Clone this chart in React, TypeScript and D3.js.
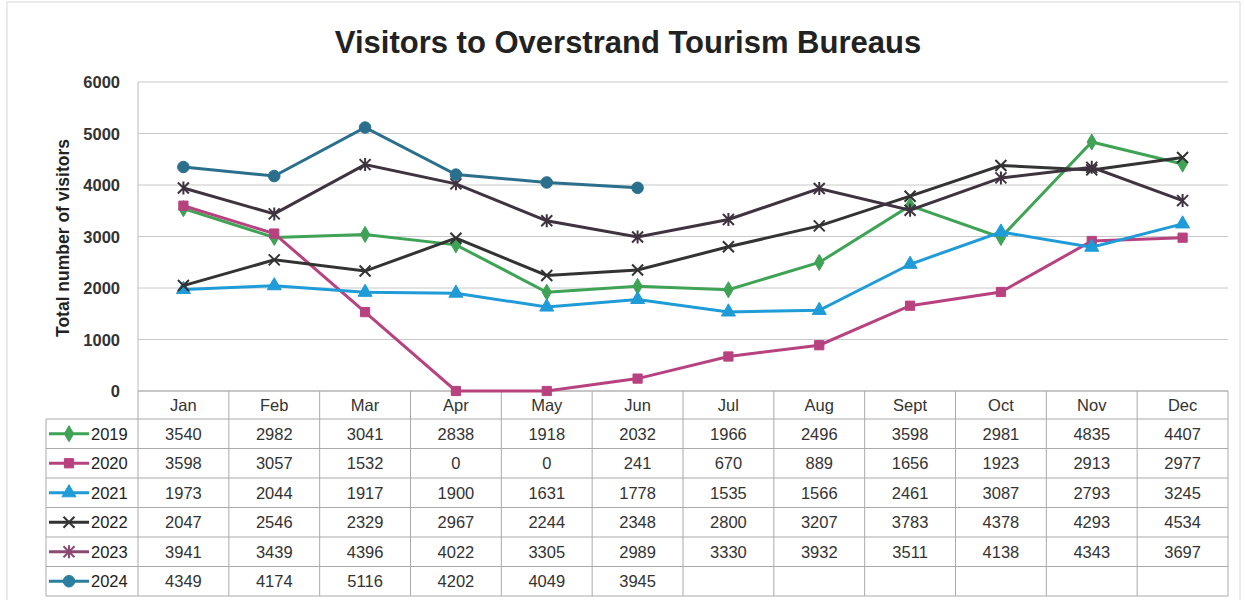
import React from "react";
import * as d3 from "d3";

const months = ["Jan", "Feb", "Mar", "Apr", "May", "Jun", "Jul", "Aug", "Sept", "Oct", "Nov", "Dec"];
const years = ["2019", "2020", "2021", "2022", "2023", "2024"];
const v2019 = [3540, 2982, 3041, 2838, 1918, 2032, 1966, 2496, 3598, 2981, 4835, 4407];
const v2020 = [3598, 3057, 1532, 0, 0, 241, 670, 889, 1656, 1923, 2913, 2977];
const v2021 = [1973, 2044, 1917, 1900, 1631, 1778, 1535, 1566, 2461, 3087, 2793, 3245];
const v2022 = [2047, 2546, 2329, 2967, 2244, 2348, 2800, 3207, 3783, 4378, 4293, 4534];
const v2023 = [3941, 3439, 4396, 4022, 3305, 2989, 3330, 3932, 3511, 4138, 4343, 3697];
const v2024 = [4349, 4174, 5116, 4202, 4049, 3945];
const yTicks = [0, 1000, 2000, 3000, 4000, 5000, 6000];

const seriesValues = [v2019, v2020, v2021, v2022, v2023, v2024];
const colors = ["#3fa356", "#b8427f", "#1f9bd7", "#333333", "#3f3340", "#2a6f8c"];
const legendColors = ["#3fa356", "#b8427f", "#1f9bd7", "#333333", "#8a4a72", "#2a7fa0"];
const markers = ["diamond", "square", "triangle", "x", "star", "circle"];

const W = 1245, H = 600;
const left = 138, right = 1228, top = 82, bottom = 391;
const rowH = 29.5;
const tableTop = 391;
const headerH = 28;

function Marker({ type, x, y, color }: { type: string; x: number; y: number; color: string }) {
  if (type === "x" || type === "star") {
    const s = 5.5;
    let d = `M${x - s},${y - s}L${x + s},${y + s}M${x - s},${y + s}L${x + s},${y - s}`;
    if (type === "star") d += `M${x},${y - s - 1}L${x},${y + s + 1}`;
    return <path d={d} stroke={color} strokeWidth={2} fill="none" />;
  }
  const map: Record<string, [d3.SymbolType, number]> = {
    diamond: [d3.symbolDiamond, 75],
    square: [d3.symbolSquare, 85],
    triangle: [d3.symbolTriangle, 85],
    circle: [d3.symbolCircle, 105],
  };
  const [sym, size] = map[type];
  const p = d3.symbol().type(sym).size(size)();
  return <path d={p || ""} transform={`translate(${x},${y})`} fill={color} stroke={color} strokeWidth={1} />;
}

export default function App() {
  const x = d3.scaleBand<string>().domain(months).range([left, right]);
  const y = d3.scaleLinear().domain([0, 6000]).range([bottom, top]);
  const cx = (i: number) => (x(months[i]) as number) + x.bandwidth() / 2;
  const line = d3.line<number>().x((_, i) => cx(i)).y((d) => y(d));
  const font = "'Liberation Sans', Arial, sans-serif";
  const rowsTop = tableTop + headerH;
  const tableBottom = rowsTop + rowH * years.length;
  const legendLeft = 46;

  return (
    <svg width={W} height={H} style={{ position: "absolute", left: 0, top: 0, background: "#fff" }} fontFamily={font}>
      <rect x={7} y={2} width={1233} height={H} fill="none" stroke="#d8d8d8" strokeWidth={1} />
      <text x={628} y={53} textAnchor="middle" fontSize={31} fontWeight="bold" fill="#222">
        Visitors to Overstrand Tourism Bureaus
      </text>
      {yTicks.map((t) => (
        <g key={t}>
          <line x1={left} x2={right} y1={y(t)} y2={y(t)} stroke="#c8c8c8" strokeWidth={1} />
          <text x={120} y={y(t) + 6} textAnchor="end" fontSize={16.5} fontWeight="bold" fill="#333">
            {t}
          </text>
        </g>
      ))}
      <line x1={left} x2={left} y1={top} y2={bottom} stroke="#bbb" />
      <text transform={`translate(69,${238}) rotate(-90)`} textAnchor="middle" fontSize={17.5} fontWeight="bold" fill="#222">
        Total number of visitors
      </text>

      {/* table grid */}
      <g stroke="#aaa" strokeWidth={1}>
        <line x1={left} x2={right} y1={tableTop} y2={tableTop} />
        {years.map((_, r) => (
          <line key={r} x1={legendLeft} x2={right} y1={rowsTop + r * rowH} y2={rowsTop + r * rowH} />
        ))}
        <line x1={legendLeft} x2={right} y1={tableBottom} y2={tableBottom} />
        <line x1={legendLeft} x2={legendLeft} y1={rowsTop} y2={tableBottom} />
        {months.map((m) => (
          <line key={m} x1={x(m) as number} x2={x(m) as number} y1={tableTop} y2={tableBottom} />
        ))}
        <line x1={right} x2={right} y1={tableTop} y2={tableBottom} />
      </g>
      {months.map((m, i) => (
        <text key={m} x={cx(i)} y={tableTop + 20} textAnchor="middle" fontSize={16.5} fill="#333">
          {m}
        </text>
      ))}
      {years.map((yr, r) => {
        const cy = rowsTop + r * rowH + rowH / 2;
        return (
          <g key={yr}>
            <line x1={49} x2={89} y1={cy} y2={cy} stroke={legendColors[r]} strokeWidth={3} />
            <Marker type={markers[r]} x={69} y={cy} color={legendColors[r]} />
            <text x={91} y={cy + 6} fontSize={16.5} fill="#222">{yr}</text>
            {seriesValues[r].map((v, i) => (
              <text key={i} x={cx(i)} y={cy + 6} textAnchor="middle" fontSize={16.5} fill="#333">
                {v}
              </text>
            ))}
          </g>
        );
      })}

      {/* lines */}
      {seriesValues.map((vals, s) => (
        <g key={s}>
          <path d={line(vals) || ""} fill="none" stroke={colors[s]} strokeWidth={3} />
          {vals.map((v, i) => (
            <Marker key={i} type={markers[s]} x={cx(i)} y={y(v)} color={colors[s]} />
          ))}
        </g>
      ))}
    </svg>
  );
}
